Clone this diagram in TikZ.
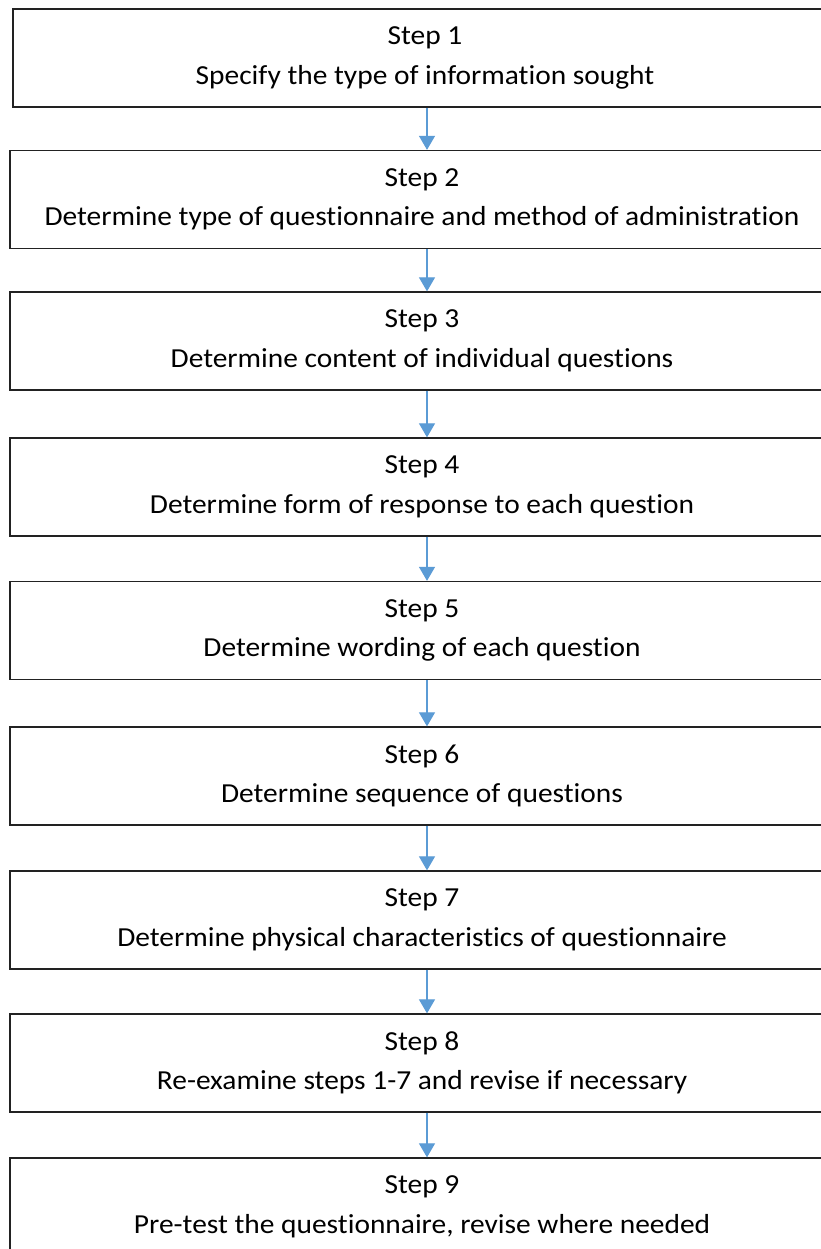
\documentclass[tikz,border=0pt]{standalone}
\usepackage{fontspec}
\setmainfont{Carlito}[Ligatures={NoCommon}, FakeStretch=1.07]
\usetikzlibrary{arrows.meta}
\definecolor{arrowblue}{HTML}{5B9BD5}
\definecolor{boxline}{HTML}{222222}
\begin{document}
\begin{tikzpicture}[x=1pt,y=1pt,
  stepbox/.style={draw=boxline, line width=1.3pt, fill=white, minimum width=824pt, minimum height=98pt,
    align=center, inner sep=0pt, font=\fontsize{27.5}{39.5}\selectfont},
  flow/.style={draw=arrowblue, line width=1.2pt, -{Triangle[width=16pt,length=14pt]}}]
\useasboundingbox (0,0) rectangle (820,-1249);
\fill[white] (0,0) rectangle (820,-1249);
\node[stepbox] (s1) at (425,-58) {Step 1\\Specify the type of information sought};
\node[stepbox] (s2) at (422,-199.5) {Step 2\\Determine type of questionnaire and method of administration};
\node[stepbox] (s3) at (422,-341) {Step 3\\Determine content of individual questions};
\node[stepbox] (s4) at (422,-487) {Step 4\\Determine form of response to each question};
\node[stepbox] (s5) at (422,-630.5) {Step 5\\Determine wording of each question};
\node[stepbox] (s6) at (422,-776) {Step 6\\Determine sequence of questions};
\node[stepbox] (s7) at (422,-920) {Step 7\\Determine physical characteristics of questionnaire};
\node[stepbox] (s8) at (422,-1063) {Step 8\\Re-examine steps 1-7 and revise if necessary};
\node[stepbox] (s9) at (422,-1207) {Step 9\\Pre-test the questionnaire, revise where needed};
\foreach \a/\b in {s1/s2,s2/s3,s3/s4,s4/s5,s5/s6,s6/s7,s7/s8,s8/s9}
  \draw[flow] (\a.south -| 427,0) -- (\b.north -| 427,0);
\end{tikzpicture}
\end{document}
